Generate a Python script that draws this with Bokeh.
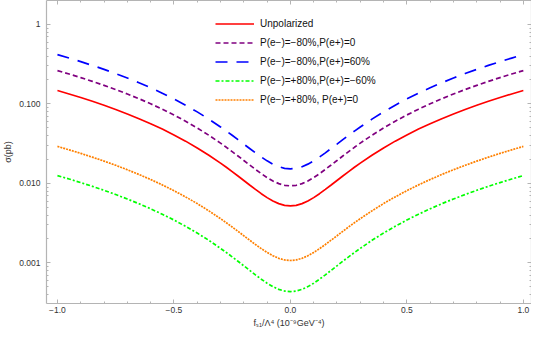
from bokeh.plotting import figure
from bokeh.models import Range1d, FixedTicker, LinearAxis, LogAxis, Legend, LegendItem
from bokeh.embed import file_html
from bokeh.resources import INLINE

# coupling f_S1/Lambda^4 (1e-9 GeV^-4)
f_s1 = [-1.0, -0.95, -0.9, -0.85, -0.8, -0.75, -0.7, -0.65, -0.6, -0.55, -0.5, -0.45, -0.4, -0.35, -0.3,
        -0.275, -0.25, -0.225, -0.2, -0.175, -0.15, -0.125, -0.1, -0.075, -0.05, -0.025, 0.0,
        0.025, 0.05, 0.075, 0.1, 0.125, 0.15, 0.175, 0.2, 0.225, 0.25, 0.275,
        0.3, 0.35, 0.4, 0.45, 0.5, 0.55, 0.6, 0.65, 0.7, 0.75, 0.8, 0.85, 0.9, 0.95, 1.0]

sigma_unpol = [0.1472, 0.1334, 0.1202, 0.1078, 0.0961, 0.0851, 0.0748, 0.0652, 0.0563, 0.0482, 0.0407, 0.0340, 0.0279, 0.0226, 0.01798,
               0.01594, 0.01408, 0.01239, 0.01088, 0.00955, 0.00840, 0.00742, 0.00662, 0.00600, 0.00556, 0.00529, 0.0052,
               0.00529, 0.00556, 0.00600, 0.00662, 0.00742, 0.00840, 0.00955, 0.01088, 0.01239, 0.01408, 0.01594,
               0.01798, 0.0226, 0.0279, 0.0340, 0.0407, 0.0482, 0.0563, 0.0652, 0.0748, 0.0851, 0.0961, 0.1078, 0.1202, 0.1334, 0.1472]

sigma_m80_0 = [0.2623, 0.2376, 0.2142, 0.1921, 0.1712, 0.1516, 0.1333, 0.1162, 0.1004, 0.0858, 0.0726, 0.0605, 0.0498, 0.0403, 0.0321,
               0.02843, 0.0251, 0.02211, 0.0194, 0.01705, 0.0150, 0.01325, 0.01183, 0.01072, 0.00993, 0.00946, 0.0093,
               0.00946, 0.00993, 0.01072, 0.01183, 0.01325, 0.0150, 0.01705, 0.0194, 0.02211, 0.0251, 0.02843,
               0.0321, 0.0403, 0.0498, 0.0605, 0.0726, 0.0858, 0.1004, 0.1162, 0.1333, 0.1516, 0.1712, 0.1921, 0.2142, 0.2376, 0.2623]

sigma_m80_p60 = [0.4162, 0.3771, 0.3400, 0.3049, 0.2718, 0.2408, 0.2117, 0.1846, 0.1596, 0.1365, 0.1155, 0.0964, 0.0794, 0.0643, 0.0513,
                 0.0455, 0.0403, 0.0355, 0.0312, 0.02748, 0.0242, 0.02147, 0.0192, 0.01746, 0.0162, 0.01545, 0.0152,
                 0.01545, 0.0162, 0.01746, 0.0192, 0.02147, 0.0242, 0.02748, 0.0312, 0.0355, 0.0403, 0.0455,
                 0.0513, 0.0643, 0.0794, 0.0964, 0.1155, 0.1365, 0.1596, 0.1846, 0.2117, 0.2408, 0.2718, 0.3049, 0.3400, 0.3771, 0.4162]

sigma_p80_m60 = [0.01253, 0.01135, 0.01023, 0.00918, 0.00818, 0.00724, 0.00636, 0.00555, 0.00479, 0.00409, 0.00346, 0.00288, 0.00237, 0.00192, 0.00152,
                 0.001349, 0.00119, 0.001047, 0.000918, 0.000805, 0.000706, 0.000623, 0.000555, 0.000502, 0.000464, 0.000442, 0.000434,
                 0.000442, 0.000464, 0.000502, 0.000555, 0.000623, 0.000706, 0.000805, 0.000918, 0.001047, 0.00119, 0.001349,
                 0.00152, 0.00192, 0.00237, 0.00288, 0.00346, 0.00409, 0.00479, 0.00555, 0.00636, 0.00724, 0.00818, 0.00918, 0.01023, 0.01135, 0.01253]

sigma_p80_0 = [0.02917, 0.02643, 0.02383, 0.02137, 0.01905, 0.01688, 0.01484, 0.01294, 0.01119, 0.00957, 0.00810, 0.00676, 0.00557, 0.00451, 0.00360,
               0.003195, 0.00283, 0.002493, 0.00219, 0.001931, 0.00170, 0.001509, 0.00135, 0.001228, 0.00114, 0.001088, 0.00107,
               0.001088, 0.00114, 0.001228, 0.00135, 0.001509, 0.00170, 0.001931, 0.00219, 0.002493, 0.00283, 0.003195,
               0.00360, 0.00451, 0.00557, 0.00676, 0.00810, 0.00957, 0.01119, 0.01294, 0.01484, 0.01688, 0.01905, 0.02137, 0.02383, 0.02643, 0.02917]

legend_labels = ["Unpolarized",
                 "P(e\u2212)=\u221280%,P(e+)=0",
                 "P(e\u2212)=\u221280%,P(e+)=60%",
                 "P(e\u2212)=+80%,P(e+)=\u221260%",
                 "P(e\u2212)=+80%, P(e+)=0"]

x_major = [-1.0, -0.5, 0.0, 0.5, 1.0]
x_major_labels = ["\u22121.0", "\u22120.5", "0.0", "0.5", "1.0"]
x_minor = [-0.9, -0.8, -0.7, -0.6, -0.4, -0.3, -0.2, -0.1, 0.1, 0.2, 0.3, 0.4, 0.6, 0.7, 0.8, 0.9]
y_major = [0.001, 0.01, 0.1, 1.0]
y_major_labels = ["0.001", "0.010", "0.100", "1"]
y_minor = [0.0004, 0.0005, 0.0006, 0.0007, 0.0008, 0.0009,
           0.002, 0.003, 0.004, 0.005, 0.006, 0.007, 0.008, 0.009,
           0.02, 0.03, 0.04, 0.05, 0.06, 0.07, 0.08, 0.09,
           0.2, 0.3, 0.4, 0.5, 0.6, 0.7, 0.8, 0.9]

FONT = "Liberation Sans"
AX = "#b4b4b4"
TXT = "#333333"

p = figure(width=531, height=330,
           x_range=Range1d(-1.047, 1.035), y_range=Range1d(3.08e-4, 2.0),
           y_axis_type="log", output_backend="svg", toolbar_location=None,
           min_border_left=37, min_border_right=0, min_border_top=0, min_border_bottom=26)
p.grid.visible = False
p.outline_line_color = None
p.background_fill_color = "white"

styles = [
    dict(color="#ff0000", line_dash="solid"),
    dict(color="#800080", line_dash="5 3"),
    dict(color="#0000ff", line_dash="12 9"),
    dict(color="#00ff00", line_dash="4 2 2 2"),
    dict(color="#ff8000", line_dash="2 1"),
]
series = [sigma_unpol, sigma_m80_0, sigma_m80_p60, sigma_p80_m60, sigma_p80_0]
items = []
for ys, st, lab in zip(series, styles, legend_labels):
    r = p.line(f_s1, ys, line_color=st["color"], line_dash=st["line_dash"], line_width=1.7)
    items.append(LegendItem(label=lab, renderers=[r]))

legend = Legend(items=items, location=(169, 194), margin=0, padding=0, spacing=0,
                glyph_width=39, glyph_height=19, label_height=19, label_standoff=6,
                label_text_font=FONT, label_text_font_size="10px", label_text_color="#111111",
                border_line_alpha=0, background_fill_alpha=0)
p.add_layout(legend, "center")

def style_axis(ax):
    ax.axis_line_color = AX
    ax.axis_line_width = 1.2
    ax.major_tick_line_color = AX
    ax.minor_tick_line_color = AX
    ax.major_tick_in = 4
    ax.major_tick_out = 0
    ax.minor_tick_in = 2
    ax.minor_tick_out = 0
    ax.major_label_text_font = FONT
    ax.major_label_text_color = TXT
    ax.major_label_text_font_size = "8.5px"
    ax.axis_label_text_font = FONT
    ax.axis_label_text_color = TXT
    ax.axis_label_text_font_style = "normal"
    ax.axis_label_text_font_size = "9px"

xa = p.xaxis[0]
xa.ticker = FixedTicker(ticks=x_major, minor_ticks=x_minor)
xa.major_label_overrides = dict(zip(x_major, x_major_labels))
xa.axis_label = "f\u209b\u2081/\u039b\u2074 (10\u207b\u2079GeV\u207b\u2074)"
style_axis(xa)
xa.major_label_standoff = 3
xa.axis_label_standoff = 2

ya = p.yaxis[0]
ya.ticker = FixedTicker(ticks=y_major, minor_ticks=y_minor)
ya.major_label_overrides = dict(zip(y_major, y_major_labels))
ya.axis_label = "\u03c3(pb)"
style_axis(ya)
ya.major_label_standoff = 6
ya.axis_label_standoff = 3

top = LinearAxis(ticker=FixedTicker(ticks=x_major, minor_ticks=x_minor))
style_axis(top)
top.major_label_text_font_size = "1px"
top.major_label_text_alpha = 0
top.major_label_standoff = 0
p.add_layout(top, "above")
right = LogAxis(ticker=FixedTicker(ticks=y_major, minor_ticks=y_minor))
style_axis(right)
right.major_label_text_font_size = "1px"
right.major_label_text_alpha = 0
right.major_label_standoff = 0
p.add_layout(right, "right")

open("out.html", "w").write(file_html(p, INLINE))
